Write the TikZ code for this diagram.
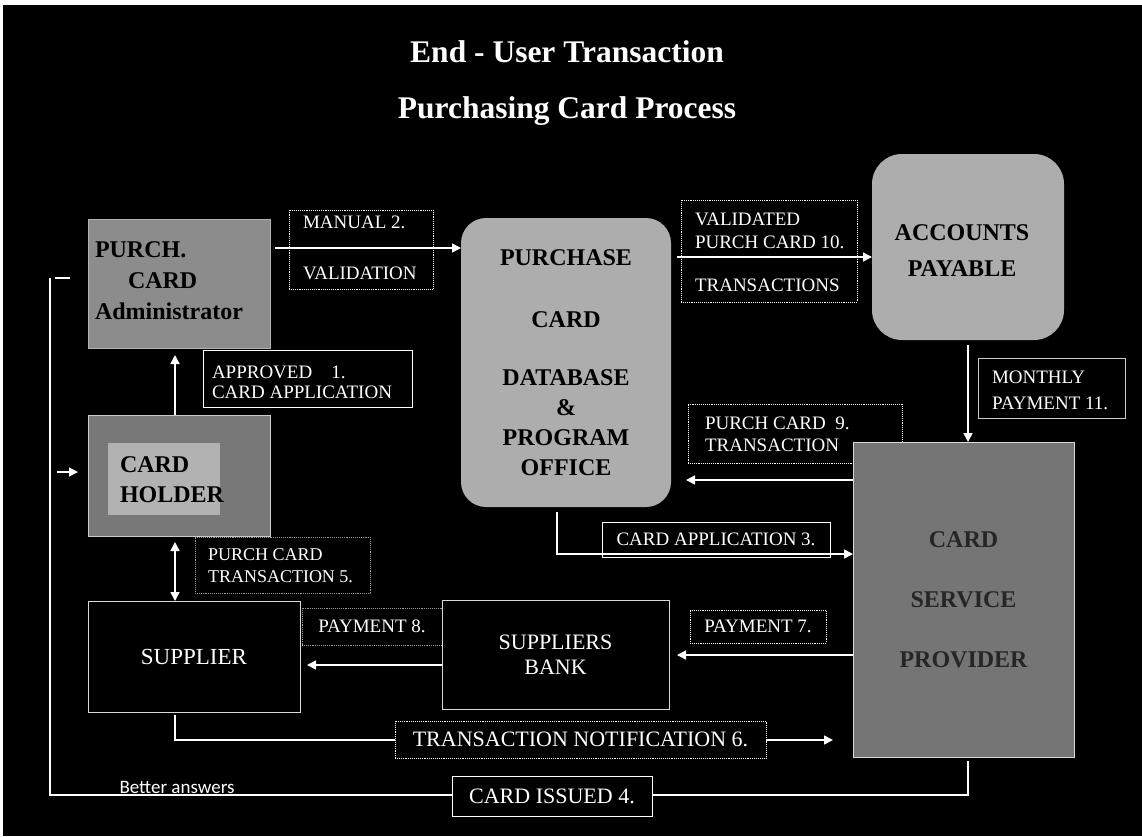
\documentclass[tikz,border=0pt]{standalone}
\usepackage{fontspec}
\setmainfont{Liberation Serif}
\newfontfamily\notesans{Carlito}
\usetikzlibrary{arrows.meta}

\definecolor{adminfill}{gray}{0.55}
\definecolor{purchfill}{gray}{0.68}
\definecolor{chout}{gray}{0.47}
\definecolor{chin}{gray}{0.70}
\definecolor{cspfill}{gray}{0.46}

\begin{document}
\begin{tikzpicture}[x=1pt,y=-1pt,
  every node/.style={inner sep=0pt, outer sep=0pt},
  wire/.style={draw=white, line width=1.5pt},
  arr/.style={wire, -{Triangle[length=9pt,width=9pt]}},
  darr/.style={wire, {Triangle[length=9pt,width=9pt]}-{Triangle[length=9pt,width=9pt]}},
  headline/.style={text=white, font=\bfseries\fontsize{31.5}{34}\selectfont},
  blk/.style={draw=white!85!black, line width=1pt, fill=black, text=white, align=center,
    font=\fontsize{23}{25}\selectfont},
  grybox/.style={fill=#1, text=black, align=center, font=\bfseries\fontsize{24}{30}\selectfont},
  lbl/.style={draw=white, line width=0.9pt, fill=black, text=white, font=\fontsize{19}{20}\selectfont},
  dlbl/.style={lbl, densely dotted},
  ltxt/.style={text=white, anchor=west, font=\fontsize{19}{20}\selectfont},
]
% page and dark panel
\fill[white] (0,0) rectangle (1142,836);
\fill[black] (3,5) rectangle (1142,836);
\useasboundingbox (0,0) rectangle (1142,836);

% headings
\node[headline, anchor=base] (head1) at (567,62) {End - User Transaction};
\node[headline, anchor=base] (head2) at (567,118) {Purchasing Card Process};

% flow labels lying under boxes and arrows
\node[dlbl, minimum width=144pt, minimum height=79pt] (manual) at (361,249.5) {};
\node[ltxt] (manualA) at (303,222) {MANUAL 2.};
\node[ltxt] (manualB) at (303,273) {VALIDATION};

\node[lbl, minimum width=209pt, minimum height=57pt] (approved) at (307.5,378.5) {};
\node[ltxt] (approvedA) at (212,372) {APPROVED\quad 1.};
\node[ltxt] (approvedB) at (212,392) {CARD APPLICATION};

\node[dlbl, minimum width=176pt, minimum height=102pt] (valid) at (769,251) {};
\node[ltxt] (validA) at (695,219) {VALIDATED};
\node[ltxt] (validB) at (695,242) {PURCH CARD 10.};
\node[ltxt] (validC) at (695,285) {TRANSACTIONS};

\node[lbl, draw=white!80!black, minimum width=147pt, minimum height=60pt] (monthly) at (1051.5,388) {};
\node[ltxt] (monthlyA) at (992,377) {MONTHLY};
\node[ltxt] (monthlyB) at (992,403) {PAYMENT 11.};

\node[dlbl, minimum width=214pt, minimum height=59pt] (tx9) at (795,433.5) {};
\node[ltxt] (tx9A) at (705,423) {PURCH CARD\ \ 9.};
\node[ltxt] (tx9B) at (705,445) {TRANSACTION};

\node[lbl, minimum width=228pt, minimum height=35pt] (app3) at (716,539.5) {CARD APPLICATION 3.};

\node[dlbl, draw=white!60!black, minimum width=175pt, minimum height=56pt] (tx5) at (282.5,565) {};
\node[ltxt, font=\fontsize{18}{20}\selectfont] (tx5A) at (208,555) {PURCH CARD};
\node[ltxt, font=\fontsize{18}{20}\selectfont] (tx5B) at (208,577) {TRANSACTION 5.};

\node[dlbl, draw=white!60!black, minimum width=140pt, minimum height=37pt] (pay8) at (372,626.5) {PAYMENT 8.};
\node[dlbl, minimum width=136pt, minimum height=33pt] (pay7) at (758,626.5) {PAYMENT 7.};

% parties
\node[grybox=adminfill, draw=white!70!black, line width=1pt,
      minimum width=182pt, minimum height=129pt] (admin) at (179,283.5) {};
\node[grybox=adminfill, fill=none, anchor=west, align=left, font=\bfseries\fontsize{24}{31}\selectfont]
      (admintxt) at (95,281) {PURCH.\\\hspace*{33pt}CARD\\Administrator};

\node[grybox=purchfill, rounded corners=25pt, minimum width=210pt, minimum height=289pt]
      (purch) at (566,362.5) {PURCHASE\\[32pt]CARD\\[28pt]DATABASE\\\&\\PROGRAM\\OFFICE};

\node[grybox=purchfill, rounded corners=30pt, minimum width=192pt, minimum height=186pt]
      (ap) at (968,247) {};
\node[grybox=purchfill, fill=none, font=\bfseries\fontsize{24}{36}\selectfont]
      (aptxt) at (962,251) {ACCOUNTS\\PAYABLE};

\node[fill=chout, draw=white!80!black, line width=1pt, minimum width=182pt, minimum height=121pt]
      (ch) at (179,475.5) {};
\node[fill=chin, minimum width=112pt, minimum height=72pt] (chin) at (164,479) {};
\node[grybox=chin, fill=none, anchor=west, align=left] (chtxt) at (120,480) {CARD\\HOLDER};

\node[grybox=cspfill, draw=white!85!black, line width=1pt, minimum width=221pt, minimum height=315pt,
      text=black!85, font=\bfseries\fontsize{24}{60}\selectfont] (csp) at (963.5,599.5) {CARD\\SERVICE\\PROVIDER};

\node[blk, minimum width=212pt, minimum height=111pt] (sup) at (194,656.5) {SUPPLIER};
\node[blk, minimum width=227pt, minimum height=109pt, font=\fontsize{22}{25}\selectfont]
      (bank) at (555.5,654.5) {SUPPLIERS\\BANK};

% connectors
\coordinate (m2) at (275,248);
\draw[arr, shorten <=5pt] (admin.east |- m2) -- (purch.west |- m2);

\coordinate (v10) at (677,257);
\draw[arr, shorten <=6pt] (purch.east |- v10) -- (ap.west |- v10);

\coordinate (m11) at (968,345);
\draw[arr, shorten <=5pt] (ap.south -| m11) -- (csp.north -| m11);

\coordinate (p9) at (853,480);
\draw[arr, shorten >=15pt] (csp.west |- p9) -- (purch.east |- p9);

\coordinate (a3) at (557,554);
\draw[arr, shorten <=5pt] (purch.south -| a3) |- (csp.west |- a3);

\coordinate (p7) at (853,655);
\draw[arr, shorten >=8pt] (csp.west |- p7) -- (bank.east |- p7);

\coordinate (p8) at (442,665);
\draw[arr, shorten >=7pt] (bank.west |- p8) -- (sup.east |- p8);

\coordinate (v1) at (175,415);
\draw[arr, shorten >=7pt] (ch.north -| v1) -- (admin.south -| v1);
\draw[darr, shorten <=6pt] (ch.south -| v1) -- (sup.north -| v1);

\coordinate (t6) at (175,740);
\draw[arr, shorten <=3pt, shorten >=20pt] (sup.south -| t6) |- (csp.west |- t6);

\coordinate (i4) at (968,795);
\coordinate (lb) at (50,795);
\coordinate (lt) at (50,278);
\draw[wire, line width=1.2pt, shorten <=4pt] (csp.south -| i4) |- (lb) -- (lt);
\draw[wire, line width=1.2pt] ([xshift=5pt]lt) -- ([xshift=20pt]lt);

\coordinate (h4) at (50,472);
\draw[arr, line width=1.2pt, shorten <=7pt, shorten >=10pt] (h4) -- (ch.west |- h4);

\node[text=white, anchor=base, font=\notesans\fontsize{19}{20}\selectfont] (better) at (177,793) {Better answers};

% labels laid over their lines
\node[dlbl, minimum width=371pt, minimum height=37pt, font=\fontsize{22}{24}\selectfont]
      (notif) at (580.5,739.5) {TRANSACTION NOTIFICATION 6.};
\node[lbl, minimum width=200pt, minimum height=40pt, font=\fontsize{22}{24}\selectfont]
      (issued) at (552,796) {CARD ISSUED 4.};
\end{tikzpicture}
\end{document}
